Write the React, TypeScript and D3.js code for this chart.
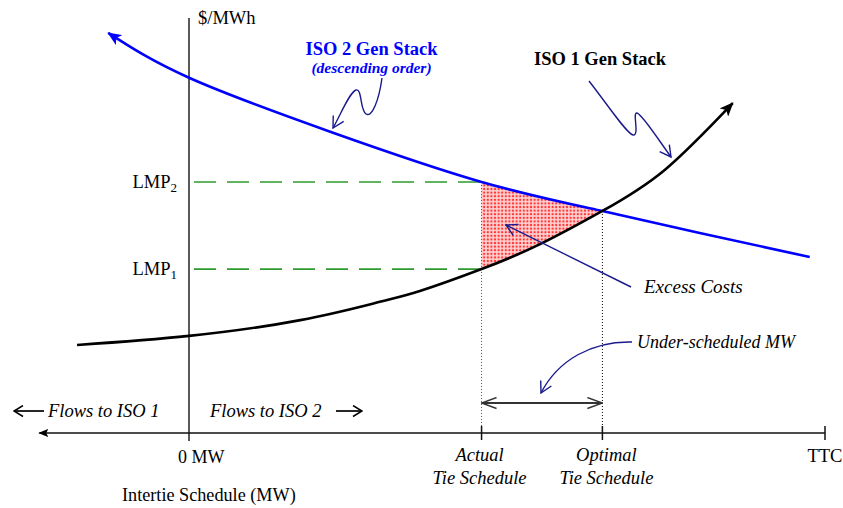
import React from 'react';
import * as d3 from 'd3';

// ---- data (conceptual units: MW 0..100 = 0 .. TTC, price 0..100) ----
const blueX = [-12.7, 0, 22.2, 46, 65, 80.3, 97.6];
const blueY = [96.4, 85.6, 72.6, 60.5, 53.5, 48.2, 42.4];
const blackX = [-17.6, 0, 17.5, 30, 36.3, 46, 55.2, 65, 74.8, 85.5];
const blackY = [21.2, 23.4, 27.2, 31.6, 34.2, 39.5, 45.5, 53.5, 63.4, 79.5];
const actualMW = 46;
const optimalMW = 65;
const ttcMW = 100;
const axisMinMW = -23.7;
const lmpValues = [60.5, 39.5];
const lmpSubs = ['2', '1'];
const crossPrice = 53.5;

const W = 843;
const H = 508;
const FONT = '"Liberation Serif", "Times New Roman", serif';
const NAVY = '#1a1a8c';

export default function App() {
  const x = d3.scaleLinear().domain([0, 100]).range([189, 825]);
  const y = d3.scaleLinear().domain([0, 100]).range([433, 18]);
  const blue = blueX.map((v, i) => [v, blueY[i]] as [number, number]);
  const black = blackX.map((v, i) => [v, blackY[i]] as [number, number]);
  const curve = d3.curveNatural;
  const line = d3.line<[number, number]>().x(d => x(d[0])).y(d => y(d[1])).curve(curve);
  const belowBlue = d3.area<[number, number]>().x(d => x(d[0])).y0(y(0)).y1(d => y(d[1])).curve(curve);
  const aboveBlack = d3.area<[number, number]>().x(d => x(d[0])).y0(0).y1(d => y(d[1])).curve(curve);
  const axisY = y(0);
  const x0 = x(0);
  const xa = x(actualMW);
  const xo = x(optimalMW);
  const xt = x(ttcMW);

  return (
    <svg width={W} height={H} style={{ position: 'absolute', left: 0, top: 0, display: 'block', background: '#fff' }} fontFamily={FONT}>
      <defs>
        <marker id="arrBlue" markerUnits="userSpaceOnUse" viewBox="0 0 14 12" markerWidth={14} markerHeight={12} refX={13} refY={6} orient="auto-start-reverse">
          <path d="M0,0 L14,6 L0,12 L3.5,6 Z" fill="#0000ff" />
        </marker>
        <marker id="arrBlack" markerUnits="userSpaceOnUse" viewBox="0 0 14 12" markerWidth={14} markerHeight={12} refX={13} refY={6} orient="auto">
          <path d="M0,0 L14,6 L0,12 L3.5,6 Z" fill="#000" />
        </marker>
        <marker id="arrAxis" markerUnits="userSpaceOnUse" viewBox="0 0 10 8" markerWidth={10} markerHeight={8} refX={9} refY={4} orient="auto-start-reverse">
          <path d="M0,0 L10,4 L0,8 L2,4 Z" fill="#000" />
        </marker>
        <marker id="openNavy" markerUnits="userSpaceOnUse" viewBox="-1 -1 14 14" markerWidth={14} markerHeight={14} refX={11} refY={6} orient="auto">
          <path d="M0,0 L11,6 L0,12" fill="none" stroke={NAVY} strokeWidth={1.4} />
        </marker>
        <marker id="openGray" markerUnits="userSpaceOnUse" viewBox="-1 -1 17 13" markerWidth={17} markerHeight={13} refX={15} refY={5.5} orient="auto-start-reverse">
          <path d="M0,0 L15,5.5 L0,11" fill="none" stroke="#333" strokeWidth={1.4} />
        </marker>
        <marker id="openBlack" markerUnits="userSpaceOnUse" viewBox="-1 -1 11 13" markerWidth={11} markerHeight={13} refX={9} refY={5.5} orient="auto-start-reverse">
          <path d="M0,0 L9,5.5 L0,11" fill="none" stroke="#000" strokeWidth={1.5} />
        </marker>
        <pattern id="dots" patternUnits="userSpaceOnUse" width={3.6} height={3.6}>
          <rect width={3.6} height={3.6} fill="#ffd0d0" />
          <circle cx={1.8} cy={1.8} r={1.1} fill="#ff3030" />
        </pattern>
        <clipPath id="rectClip">
          <rect x={xa} y={0} width={xo - xa} height={H} />
        </clipPath>
        <clipPath id="blueClip">
          <path d={belowBlue(blue) || ''} />
        </clipPath>
      </defs>

      {/* shaded excess costs */}
      <g clipPath="url(#rectClip)">
        <g clipPath="url(#blueClip)">
          <path d={aboveBlack(black) || ''} fill="url(#dots)" />
        </g>
      </g>

      {/* vertical dotted lines */}
      <line x1={xa} x2={xa} y1={y(lmpValues[0])} y2={axisY} stroke="#ff0000" strokeWidth={1} strokeDasharray="1 2" />
      <line x1={xo} x2={xo} y1={y(crossPrice)} y2={axisY} stroke="#000" strokeWidth={1} strokeDasharray="1 2" />

      {/* LMP dashed lines */}
      {lmpValues.map((v, i) => (
        <g key={i}>
          <line x1={x0 + 5} x2={xa} y1={y(v)} y2={y(v)} stroke="#2e9a2e" strokeWidth={1.6} strokeDasharray="22 11" />
          <text x={177} y={y(v) + 6} textAnchor="end" fontSize={18.5} fill="#000">
            LMP<tspan fontSize={13} dy={4}>{lmpSubs[i]}</tspan>
          </text>
        </g>
      ))}

      {/* axes */}
      <line x1={x0} x2={x0} y1={18} y2={441} stroke="#222" strokeWidth={1.5} />
      <line x1={xt} x2={x(axisMinMW) + 1} y1={axisY} y2={axisY} stroke="#111" strokeWidth={1.5} markerEnd="url(#arrAxis)" />
      {[xa, xo, xt].map((t, i) => (
        <line key={i} x1={t} x2={t} y1={426} y2={440} stroke="#111" strokeWidth={1.5} />
      ))}

      {/* curves */}
      <path d={line(blue) || ''} fill="none" stroke="#0000ff" strokeWidth={2.6} markerStart="url(#arrBlue)" />
      <path d={line(black) || ''} fill="none" stroke="#000" strokeWidth={2.6} markerEnd="url(#arrBlack)" />

      {/* axis labels */}
      <text x={198} y={24} fontSize={18.5}>$/MWh</text>
      <text x={178} y={463} fontSize={18}>0 MW</text>
      <text x={122} y={501} fontSize={18.2}>Intertie Schedule (MW)</text>
      <text x={xt} y={462} fontSize={18.5} textAnchor="middle">TTC</text>
      <text x={xa - 2} y={461} fontSize={18.5} fontStyle="italic" textAnchor="middle">Actual</text>
      <text x={xa - 2} y={484} fontSize={18.5} fontStyle="italic" textAnchor="middle">Tie Schedule</text>
      <text x={xo + 4} y={461} fontSize={18.5} fontStyle="italic" textAnchor="middle">Optimal</text>
      <text x={xo + 4} y={484} fontSize={18.5} fontStyle="italic" textAnchor="middle">Tie Schedule</text>

      {/* flows */}
      <line x1={44} x2={14} y1={411} y2={411} stroke="#000" strokeWidth={1.7} markerEnd="url(#openBlack)" />
      <text x={48} y={417} fontSize={18.5} fontStyle="italic">Flows to ISO 1</text>
      <text x={210} y={417} fontSize={18.5} fontStyle="italic">Flows to ISO 2</text>
      <line x1={336} x2={362} y1={411} y2={411} stroke="#000" strokeWidth={1.7} markerEnd="url(#openBlack)" />

      {/* series titles */}
      <text x={371.5} y={55} fontSize={18.5} fontWeight="bold" fill="#0000ff" textAnchor="middle">ISO 2 Gen Stack</text>
      <text x={371.5} y={73} fontSize={15.5} fontWeight="bold" fontStyle="italic" fill="#0000ff" textAnchor="middle">(descending order)</text>
      <text x={600} y={65} fontSize={18.5} fontWeight="bold" fill="#000" textAnchor="middle">ISO 1 Gen Stack</text>

      {/* squiggle annotation arrows */}
      <path d="M382,78 C379,100 372,118 366,114 C360,110 362,88 356,90 C349,93 341,114 333,128" fill="none" stroke={NAVY} strokeWidth={1.4} markerEnd="url(#openNavy)" />
      <path d="M589,81 C610,108 627,134 633,135 C640,136 632,112 637,113 C642,114 660,142 671,157" fill="none" stroke={NAVY} strokeWidth={1.4} markerEnd="url(#openNavy)" />

      {/* excess costs */}
      <line x1={631} y1={287} x2={506} y2={225} stroke={NAVY} strokeWidth={1.4} markerEnd="url(#openNavy)" />
      <text x={644} y={293} fontSize={19} fontStyle="italic">Excess Costs</text>

      {/* under-scheduled */}
      <path d="M632,342 C592,341 558,360 541,393" fill="none" stroke={NAVY} strokeWidth={1.4} markerEnd="url(#openNavy)" />
      <text x={637} y={348} fontSize={18} fontStyle="italic">Under-scheduled MW</text>
      <line x1={xa} x2={xo} y1={403} y2={403} stroke="#333" strokeWidth={2} markerStart="url(#openGray)" markerEnd="url(#openGray)" />
    </svg>
  );
}
